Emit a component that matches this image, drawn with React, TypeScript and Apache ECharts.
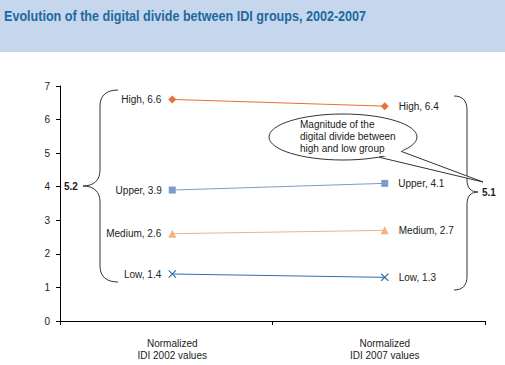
import React, { useEffect, useRef } from "react";
import * as echarts from "echarts";

const groups = ["High", "Upper", "Medium", "Low"];
const idi2002 = [6.6, 3.9, 2.6, 1.4];
const idi2007 = [6.4, 4.1, 2.7, 1.3];
const categories = ["Normalized\nIDI 2002 values", "Normalized\nIDI 2007 values"];
const divideLabels = ["5.2", "5.1"];
const titleText = "Evolution of the digital divide between IDI groups, 2002-2007";
const calloutText = "Magnitude of the\ndigital divide between\nhigh and low group";

const colors = ["#e8703a", "#7f9cc9", "#f4b183", "#2e6fad"];
const symbols = [
  "diamond",
  "rect",
  "triangle",
  "path://M0,1L1,0L5,4L9,0L10,1L6,5L10,9L9,10L5,6L1,10L0,9L4,5Z",
];
const symbolSizes = [8, 7, 8, 8];

const FONT = "Liberation Sans, Arial, sans-serif";

const leftBrace =
  "M118,90 C107,90 100,95 100,106 L100,170 C100,180 94,186 83,186 C94,186 100,192 100,202 L100,266 C100,277 107,282 118,282";
const rightBrace =
  "M454,96 C462,96 467,100 467,110 L467,180 C467,188 471,192 478,192 C471,192 467,196 467,204 L467,276 C467,286 462,290 454,290";

echarts.graphic.registerShape("leftBrace", echarts.graphic.extendPath(leftBrace, {}) as any);
echarts.graphic.registerShape("rightBrace", echarts.graphic.extendPath(rightBrace, {}) as any);

export default function App() {
  const ref = useRef<HTMLDivElement>(null);
  useEffect(() => {
    document.body.style.margin = "0";
    if (!ref.current) return;
    const chart = echarts.init(ref.current, null, { renderer: "svg" });
    const series = groups.map((g, i) => ({
      name: g,
      type: "line",
      xAxisIndex: 1,
      yAxisIndex: 1,
      symbol: symbols[i],
      symbolSize: symbolSizes[i],
      lineStyle: { color: colors[i], width: 1 },
      itemStyle: { color: colors[i] },
      label: {
        show: true,
        formatter: "{a}, {c}",
        color: "#222",
        fontSize: 10,
        fontFamily: FONT,
      },
      data: [
        { value: idi2002[i], label: { position: "left", distance: 7 } },
        { value: idi2007[i], label: { position: "right", distance: 10 } },
      ],
    }));
    chart.setOption({
      animation: false,
      backgroundColor: "#ffffff",
      grid: [
        { left: 60, right: 20, top: 86, bottom: 44 },
        { left: 66, right: 14, top: 86, bottom: 44 },
      ],
      xAxis: [
        {
          type: "category",
          gridIndex: 0,
          data: categories,
          boundaryGap: true,
          axisLine: { lineStyle: { color: "#000", width: 1 } },
          axisTick: { show: true, length: 4, inside: false, lineStyle: { color: "#000" } },
          axisLabel: { show: false },
          splitLine: { show: false },
        },
        {
          type: "category",
          gridIndex: 1,
          data: categories,
          boundaryGap: true,
          axisLine: { show: false },
          axisTick: { show: false },
          axisLabel: {
            show: true,
            margin: 16,
            color: "#222",
            fontSize: 10,
            fontFamily: FONT,
            lineHeight: 12,
          },
          splitLine: { show: false },
        },
      ],
      yAxis: [
        {
          type: "value",
          gridIndex: 0,
          min: 0,
          max: 7,
          interval: 1,
          axisLine: { show: true, lineStyle: { color: "#000", width: 1 } },
          axisTick: { show: true, length: 4, lineStyle: { color: "#000" } },
          axisLabel: { color: "#222", fontSize: 10, fontFamily: FONT, margin: 10 },
          splitLine: { show: false },
        },
        {
          type: "value",
          gridIndex: 1,
          min: 0,
          max: 7,
          interval: 1,
          show: false,
        },
      ],
      series,
      graphic: [
        {
          type: "rect",
          shape: { x: 0, y: 0, width: 505, height: 52 },
          style: { fill: "#c6d6ec" },
          z: 0,
        },
        {
          type: "text",
          x: 4,
          y: 16,
          scaleX: 0.9,
          style: {
            text: titleText,
            font: "bold 14px " + FONT,
            fill: "#1d6aa0",
            textVerticalAlign: "middle",
          },
        },
        {
          type: "leftBrace",
          x: 0,
          y: 0,
          style: { stroke: "#333", fill: "none", lineWidth: 1 },
        },
        {
          type: "rightBrace",
          x: 0,
          y: 0,
          style: { stroke: "#333", fill: "none", lineWidth: 1 },
        },
        {
          type: "text",
          x: 64,
          y: 186,
          style: {
            text: divideLabels[0],
            font: "bold 10px " + FONT,
            fill: "#222",
            textVerticalAlign: "middle",
          },
        },
        {
          type: "text",
          x: 482,
          y: 192,
          style: {
            text: divideLabels[1],
            font: "bold 10px " + FONT,
            fill: "#222",
            textVerticalAlign: "middle",
          },
        },
        {
          type: "ellipse",
          shape: { cx: 343, cy: 137, rx: 74, ry: 23 },
          style: { fill: "#fff", stroke: "#333", lineWidth: 1 },
        },
        {
          type: "polygon",
          shape: { points: [[381, 155], [400, 149.5], [483, 182]] },
          style: { fill: "#fff", stroke: "none" },
        },
        {
          type: "polyline",
          shape: { points: [[379, 157.2], [483, 182], [401, 151.3]] },
          style: { stroke: "#333", fill: "none", lineWidth: 1 },
        },
        {
          type: "text",
          x: 300,
          y: 118,
          style: {
            text: calloutText,
            font: "10px " + FONT,
            fill: "#222",
            lineHeight: 12,
          },
        },
      ],
    });
    return () => chart.dispose();
  }, []);
  return <div ref={ref} style={{ width: 505, height: 365 }} />;
}
